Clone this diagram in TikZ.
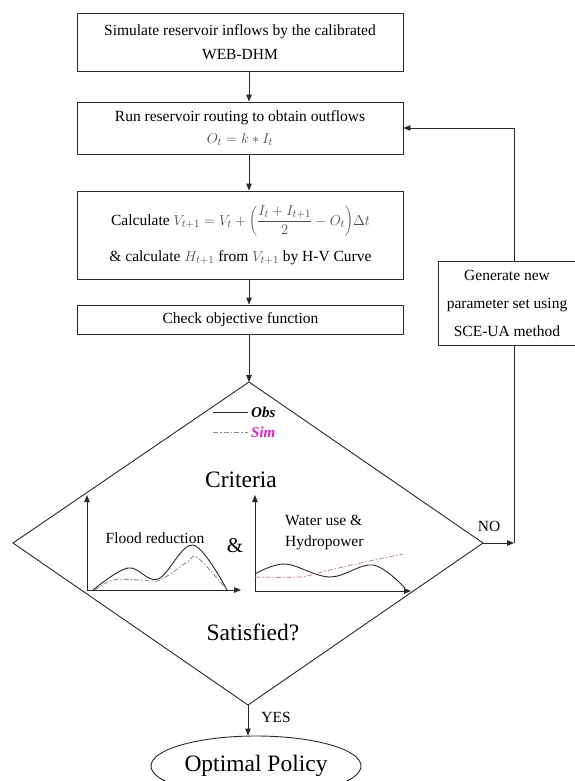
\documentclass[tikz,border=0pt]{standalone}
\usepackage{fontspec}
\setmainfont{Liberation Serif}
\usetikzlibrary{arrows.meta,shapes.geometric}
\definecolor{ink}{RGB}{40,40,40}
\definecolor{simgray}{RGB}{140,140,140}
\definecolor{simpink}{RGB}{200,140,140}
\definecolor{simlabel}{RGB}{225,30,215}
\begin{document}
\begin{tikzpicture}[x=1pt,y=-1pt,
  flow/.style={draw=ink, line width=0.9pt},
  arr/.style={flow, -{Triangle[length=7pt,width=5.5pt]}},
  stepbox/.style={draw=ink, line width=0.9pt, align=center, inner sep=0pt,
    font=\fontsize{15.5}{24}\selectfont},
  label/.style={inner sep=0pt, font=\fontsize{15.5}{20}\selectfont},
  big/.style={inner sep=0pt, font=\fontsize{23.5}{28}\selectfont},
  obsline/.style={draw=ink, line width=0.9pt},
  simline/.style={draw=simgray, line width=0.9pt, dash pattern=on 5pt off 2pt on 1.5pt off 2pt},
  simline2/.style={draw=simpink, line width=0.9pt, dash pattern=on 5pt off 2pt on 1.5pt off 2pt}
]
\useasboundingbox (0,0) rectangle (575,781);
\clip (0,0) rectangle (575,781);

% process boxes
\node[stepbox, minimum width=326pt, minimum height=58pt] (box1) at (240,42)
  {Simulate reservoir inflows by the calibrated\\WEB-DHM};
\node[stepbox, minimum width=326pt, minimum height=52pt] (box2) at (240,128)
  {Run reservoir routing to obtain outflows\\[-2pt]
   {\color{black!70}$O_t = k * I_t$}};
\node[stepbox, minimum width=326pt, minimum height=88pt] (box3) at (240.5,235)
  {Calculate {\color{black!70}$V_{t+1} = V_t + \left(\displaystyle\frac{I_t + I_{t+1}}{2} - O_t\right)\!\Delta t$}\\[12pt]
   \& calculate {\color{black!70}$H_{t+1}$} from {\color{black!70}$V_{t+1}$} by H-V Curve};
\node[stepbox, minimum width=326pt, minimum height=29pt] (box4) at (240.5,319.5)
  {Check objective function};
\node[stepbox, minimum width=138pt, minimum height=84pt,
  font=\fontsize{15.5}{28}\selectfont] (gen) at (507,303)
  {Generate new\\parameter set using\\SCE-UA method};

% decision diamond
\coordinate (spine) at (249,0);
\coordinate (dtop) at (249,382);
\coordinate (dright) at (483,543);
\coordinate (dbottom) at (248,705);
\coordinate (dleft) at (13,543);
\draw[flow] (dtop) -- (dright) -- (dbottom) -- (dleft) -- cycle;

% terminal
\node[draw=ink, line width=0.9pt, ellipse, minimum width=210pt, minimum height=60pt,
  inner sep=0pt, font=\fontsize{23.5}{28}\selectfont] (opt) at (256,766) {Optimal Policy};

% main flow
\draw[arr] (box1.south -| spine) -- (box2.north -| spine);
\draw[arr] (box2.south -| spine) -- (box3.north -| spine);
\draw[arr] (box3.south -| spine) -- (box4.north -| spine);
\draw[arr] (box4.south -| spine) -- (dtop);
\draw[arr] (dbottom) -- (opt.north -| dbottom);
\node[label] (yes) at (276,717) {YES};

% feedback loop
\coordinate (fb) at (514,543);
\draw[arr] (dright) -- (fb);
\node[label] (no) at (489,526) {NO};
\draw[flow] (fb) -- (fb |- gen.south);
\draw[arr] (gen.north -| fb) -- (fb |- box2.east) -- (box2.east);

% legend
\coordinate (lg1a) at (213,412);
\coordinate (lg1b) at (248,412);
\coordinate (lg2a) at (213,432);
\coordinate (lg2b) at (248,432);
\draw[obsline] (lg1a) -- (lg1b);
\draw[simline] (lg2a) -- (lg2b);
\node[inner sep=0pt, anchor=west, font=\fontsize{15}{18}\selectfont\bfseries\itshape] (obs) at (251,412) {Obs};
\node[inner sep=0pt, anchor=west, text=simlabel, font=\fontsize{15}{18}\selectfont\bfseries\itshape] (sim) at (251,432) {Sim};

% criteria texts
\node[big] (crit) at (241,480) {Criteria};
\node[big] (sat) at (253,632) {Satisfied?};
\node[inner sep=0pt, font=\fontsize{21}{24}\selectfont] (amp) at (235,546) {\&};

% flood reduction chart
\coordinate (c1o) at (87,590);
\coordinate (c1y) at (87,495);
\coordinate (c1x) at (241,590);
\draw[arr] (c1o) -- (c1y);
\draw[arr] (c1o) -- (c1x);
\draw[obsline] plot[smooth, tension=0.6] coordinates {(93,590) (128,568) (158,579) (193,545) (227,590)};
\draw[simline] plot[smooth, tension=0.6] coordinates {(95,590) (113,580) (140,580) (160,580) (187,562) (198,558) (227,590)};
\node[label] (flood) at (155,538) {Flood reduction};

% water use chart
\coordinate (c2o) at (255,591);
\coordinate (c2y) at (255,495);
\coordinate (c2x) at (411,591);
\draw[arr] (c2o) -- (c2y);
\draw[arr] (c2o) -- (c2x);
\draw[obsline] plot[smooth, tension=0.6] coordinates {(255,574) (285,564) (330,577) (373,565) (405,588)};
\draw[simline2] plot[smooth, tension=0.4] coordinates {(255,577) (300,577) (330,570) (365,562) (403,554)};
\node[label, anchor=west, align=left, font=\fontsize{15.5}{21}\selectfont] (water) at (285,533) {Water use \&\\Hydropower};

\end{tikzpicture}
\end{document}
